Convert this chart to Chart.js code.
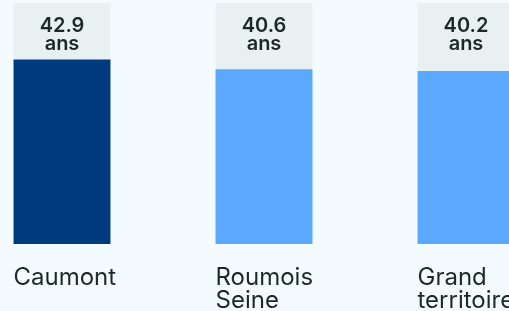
<!DOCTYPE html>
<html>
<head>
<meta charset="utf-8">
<script src="https://cdn.jsdelivr.net/npm/chart.js@4"></script>
<style>
  html, body { margin: 0; padding: 0; background: #f3fbff; overflow: hidden; }
  #age-chart { position: absolute; left: -39px; top: 0; }
</style>
</head>
<body>
<canvas id="age-chart" width="606" height="311"></canvas>
<script>
  // Age moyen par territoire
  const territoires = [['Caumont'], ['Roumois', 'Seine'], ['Grand', 'territoire']];
  const ages = [42.9, 40.6, 40.2];
  const unite = 'ans';
  const plafond = 56; // haut des cartouches grises
  const couleurs = ['#003b80', '#5aa9ff', '#5aa9ff'];

  const textColor = '#1b2a24';
  const fontFamily = "Inter, 'Noto Sans', sans-serif";

  // étiquettes de valeur dans la partie grise
  const valueLabels = {
    id: 'valueLabels',
    afterDatasetsDraw(chart) {
      const ctx = chart.ctx;
      const bars = chart.getDatasetMeta(1).data;
      ctx.save();
      ctx.fillStyle = textColor;
      ctx.textAlign = 'center';
      ctx.textBaseline = 'alphabetic';
      ctx.font = `600 20px ${fontFamily}`;
      bars.forEach((bar, i) => {
        ctx.fillText(ages[i].toFixed(1), bar.x, bar.y + 29);
        ctx.fillText(unite, bar.x, bar.y + 47);
      });
      ctx.restore();
    }
  };

  new Chart(document.getElementById('age-chart'), {
    type: 'bar',
    data: {
      labels: territoires,
      datasets: [
        {
          data: ages,
          backgroundColor: couleurs,
          borderWidth: 0
        },
        {
          data: ages.map(a => plafond - a),
          backgroundColor: '#e9f0f1',
          borderWidth: 0
        }
      ]
    },
    options: {
      responsive: false,
      animation: false,
      devicePixelRatio: 1,
      layout: { padding: { top: 3, left: 0, right: 0, bottom: 0 } },
      datasets: {
        bar: { categoryPercentage: 1, barPercentage: 0.48 }
      },
      plugins: {
        legend: { display: false },
        tooltip: { enabled: false }
      },
      scales: {
        x: {
          stacked: true,
          grid: { display: false, drawTicks: false },
          border: { display: false },
          afterFit(scale) {
            scale.height = 67;
            scale.paddingLeft = 0;
            scale.paddingRight = 0;
          },
          ticks: {
            align: 'start',
            labelOffset: -48.5,
            padding: 22,
            color: textColor,
            font: { family: fontFamily, size: 24, lineHeight: '23px' }
          }
        },
        y: {
          stacked: true,
          display: false,
          min: 0,
          max: plafond
        }
      }
    },
    plugins: [valueLabels]
  });
</script>
</body>
</html>
